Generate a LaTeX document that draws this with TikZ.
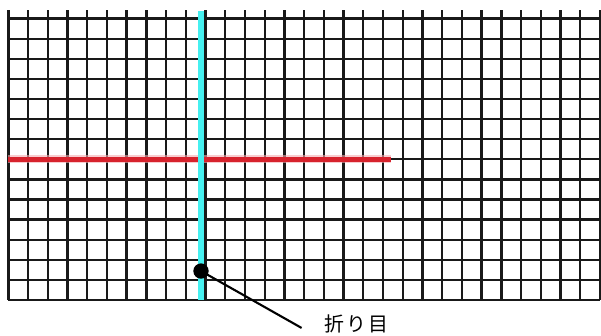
\documentclass[tikz,border=0pt]{standalone}
\usepackage{fontspec}
\newfontfamily\jpfont[LetterSpace=10]{Noto Sans CJK JP}
\usepackage{tikz}
\usetikzlibrary{calc}
\definecolor{FoldCyan}{RGB}{70,240,240}
\definecolor{CutRed}{RGB}{215,35,45}
\definecolor{CutGlow}{RGB}{245,170,175}

\begin{document}
\begin{tikzpicture}[gridline/.style={line width=2pt,black!90},
  foldline/.style={line width=5pt,FoldCyan},
  cutline/.style={line width=4pt,CutRed}]
\useasboundingbox (0,0) rectangle (18.03,10.08);
\begin{scope}[shift={(0.25,1.08)},x=0.5916cm,y=0.603cm]
% grid of the paper
\foreach \i in {0,...,30}
  \draw[gridline] (\i,0) -- (\i,14.43);
\foreach \j in {0,...,14}
  \draw[gridline] (0,\j) -- (30,\j);
% red line
\draw[line width=7pt,CutGlow,opacity=0.6] (0,7) -- (19.4,7);
\draw[cutline] (0,7) -- (19.4,7);
% fold
\draw[foldline] (9.77,0) -- (9.77,14.38);
\node[circle,fill=black,inner sep=0pt,minimum size=0.46cm] (fold) at (9.77,1.44) {};
\coordinate (tip) at (14.87,-1.39);
\node[font=\jpfont\fontsize{17}{19}\selectfont] (label) at (17.65,-1.19) {折り目};
\draw[line width=1.8pt] (fold.center) -- (tip);
\end{scope}
\end{tikzpicture}
\end{document}
